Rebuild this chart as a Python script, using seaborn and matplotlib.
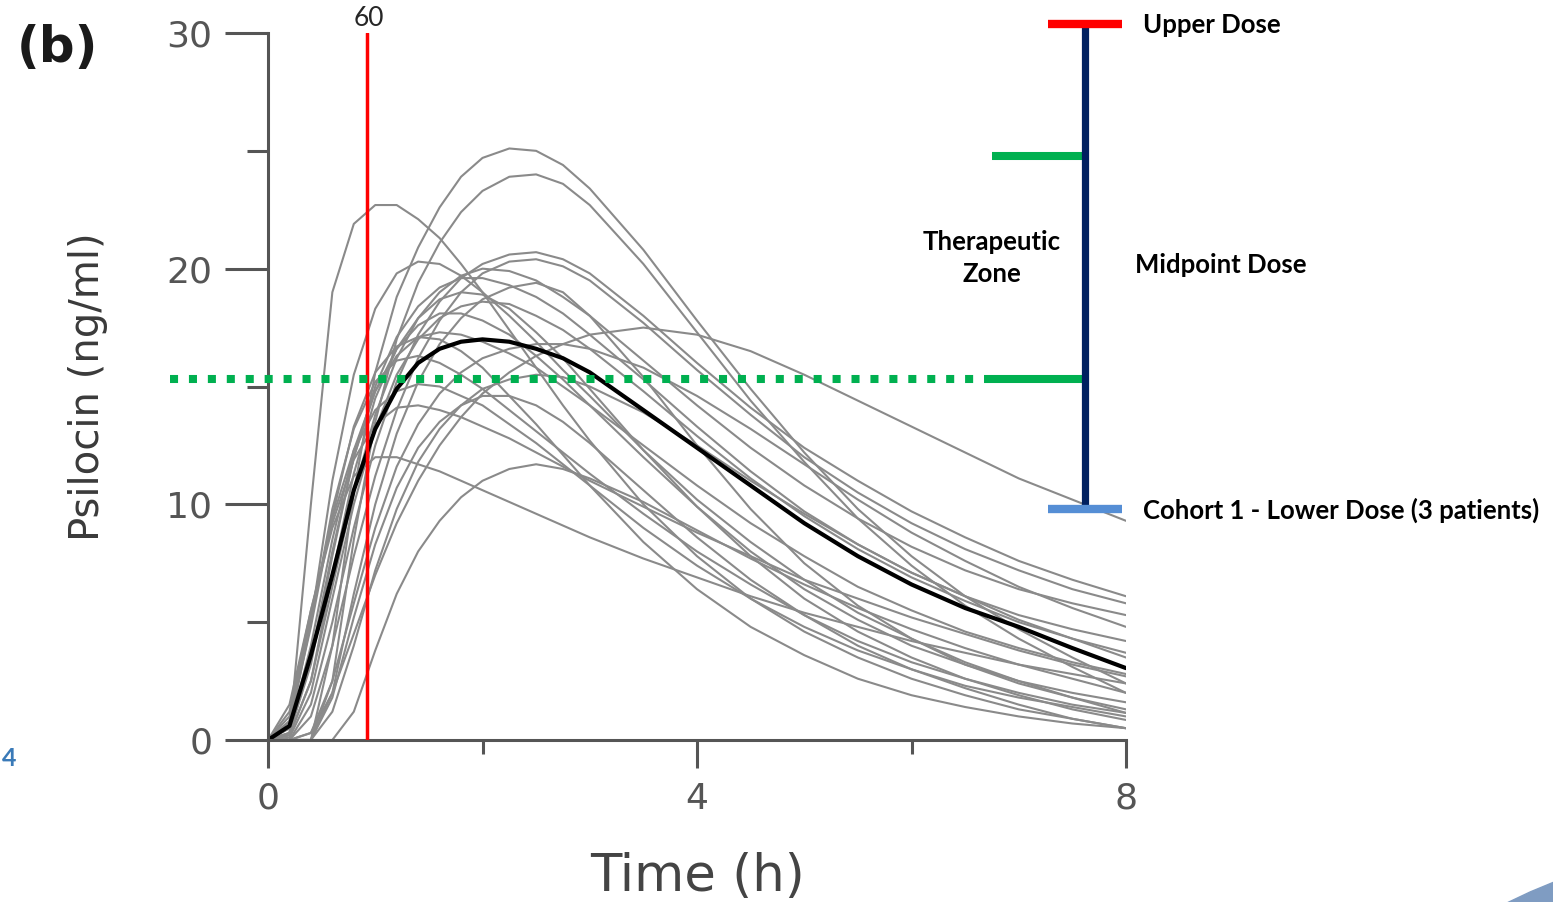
import matplotlib
matplotlib.use("Agg")
import matplotlib.pyplot as plt
from matplotlib.patches import Circle
import seaborn as sns
import pandas as pd

# sampling times (h)
time_h = [0, 0.2, 0.4, 0.6, 0.8, 1.0, 1.2, 1.4, 1.6, 1.8, 2.0, 2.25, 2.5, 2.75, 3.0,
          3.5, 4.0, 4.5, 5.0, 5.5, 6.0, 6.5, 7.0, 7.5, 8.0]

# population mean psilocin concentration (ng/ml)
mean_conc = [0, 0.6, 3.6, 7.0, 10.6, 13.2, 14.9, 16.0, 16.6, 16.9, 17.0, 16.9, 16.6, 16.2, 15.6,
             14.0, 12.4, 10.8, 9.2, 7.8, 6.6, 5.6, 4.8, 3.9, 3.05]

# individual simulated profiles (ng/ml)
subject_curves = [
    [0, 0.3, 10.0, 19.0, 21.9, 22.7, 22.7, 22.1, 21.3, 20.2, 19.0, 17.4, 15.8, 14.2, 12.7, 10.0, 7.8, 6.0, 4.6, 3.5, 2.6, 1.9, 1.3, 0.9, 0.5],
    [0, 0, 0, 4.0, 10.5, 15.6, 18.8, 20.9, 22.6, 23.9, 24.7, 25.1, 25.0, 24.4, 23.4, 20.8, 17.8, 14.9, 12.2, 9.8, 7.8, 6.1, 4.7, 3.5, 2.4],
    [0, 0, 0, 2.5, 8.5, 13.5, 17.0, 19.4, 21.1, 22.4, 23.3, 23.9, 24.0, 23.6, 22.7, 20.2, 17.3, 14.4, 11.8, 9.4, 7.4, 5.7, 4.3, 3.1, 2.0],
    [0, 0.5, 5.0, 11.0, 15.5, 18.3, 19.8, 20.3, 20.2, 19.7, 19.0, 18.0, 16.9, 15.7, 14.6, 12.3, 10.2, 8.4, 6.8, 5.4, 4.3, 3.3, 2.5, 1.8, 1.15],
    [0, 0, 1.5, 5.0, 9.0, 12.5, 15.2, 17.2, 18.6, 19.6, 20.2, 20.6, 20.7, 20.4, 19.8, 18.0, 16.0, 14.1, 12.4, 11.0, 9.7, 8.6, 7.6, 6.8, 6.1],
    [0, 0, 1.0, 4.0, 7.8, 11.2, 14.0, 16.2, 17.8, 19.0, 19.8, 20.3, 20.4, 20.1, 19.5, 17.7, 15.7, 13.8, 12.0, 10.5, 9.2, 8.1, 7.2, 6.4, 5.8],
    [0, 0.2, 2.5, 6.5, 10.5, 13.8, 16.2, 17.9, 19.0, 19.7, 20.0, 19.9, 19.5, 18.8, 18.0, 16.1, 14.2, 12.4, 10.8, 9.4, 8.2, 7.2, 6.4, 5.8, 5.3],
    [0, 0.3, 3.2, 7.8, 12.0, 15.0, 17.1, 18.4, 19.2, 19.6, 19.6, 19.3, 18.8, 18.1, 17.2, 15.3, 13.3, 11.4, 9.7, 8.3, 7.1, 6.1, 5.3, 4.7, 4.2],
    [0, 0.2, 2.5, 7.0, 11.3, 14.5, 16.6, 17.9, 18.7, 19.0, 18.9, 18.3, 17.3, 16.2, 14.9, 12.3, 9.9, 7.8, 6.0, 4.6, 3.5, 2.6, 1.9, 1.3, 0.85],
    [0, 0.1, 2.0, 6.0, 10.0, 13.2, 15.5, 17.0, 17.9, 18.4, 18.6, 18.5, 18.0, 17.4, 16.6, 14.8, 12.9, 11.1, 9.5, 8.1, 6.9, 5.9, 5.0, 4.3, 3.7],
    [0, 0, 0.3, 2.0, 4.5, 7.0, 9.2, 11.0, 12.5, 13.7, 14.7, 15.6, 16.3, 16.8, 17.2, 17.5, 17.2, 16.5, 15.5, 14.4, 13.3, 12.2, 11.1, 10.2, 9.3],
    [0, 0, 0, 0, 1.2, 3.8, 6.2, 8.0, 9.3, 10.3, 11.0, 11.5, 11.7, 11.5, 11.1, 10.1, 8.9, 7.7, 6.6, 5.6, 4.7, 3.9, 3.2, 2.6, 2.0],
    [0, 1.5, 5.5, 9.0, 11.2, 12.0, 12.0, 11.7, 11.4, 11.0, 10.6, 10.1, 9.6, 9.1, 8.6, 7.7, 6.9, 6.1, 5.4, 4.8, 4.2, 3.7, 3.2, 2.8, 2.4],
    [0, 0.8, 5.0, 9.8, 13.2, 15.2, 16.1, 16.3, 16.0, 15.5, 14.9, 14.0, 13.1, 12.2, 11.3, 9.6, 8.0, 6.6, 5.3, 4.2, 3.3, 2.6, 2.0, 1.5, 1.15],
    [0, 0.5, 4.0, 8.5, 12.3, 14.8, 16.3, 17.1, 17.3, 17.2, 16.9, 16.4, 15.8, 15.0, 14.2, 12.5, 10.8, 9.2, 7.8, 6.5, 5.5, 4.6, 3.9, 3.3, 2.8],
    [0, 0, 0, 1.2, 4.0, 7.2, 9.8, 11.8, 13.2, 14.2, 14.9, 15.3, 15.5, 15.4, 15.0, 13.9, 12.5, 11.0, 9.6, 8.3, 7.1, 6.1, 5.1, 4.3, 3.5],
    [0, 0, 0, 1.8, 5.2, 8.3, 10.7, 12.4, 13.5, 14.2, 14.6, 14.6, 14.2, 13.5, 12.6, 10.6, 8.6, 6.8, 5.3, 4.0, 3.0, 2.2, 1.5, 0.9, 0.5],
    [0, 0.3, 3.5, 8.0, 12.0, 14.8, 16.6, 17.6, 18.1, 18.1, 17.8, 17.2, 16.3, 15.3, 14.2, 12.0, 9.9, 8.0, 6.4, 5.1, 4.0, 3.2, 2.5, 2.0, 1.6],
    [0, 0, 0.3, 2.5, 5.8, 9.0, 11.6, 13.4, 14.7, 15.6, 16.2, 16.6, 16.8, 16.8, 16.6, 15.8, 14.6, 13.2, 11.7, 10.2, 8.8, 7.6, 6.5, 5.6, 4.8],
    [0, 1.0, 5.2, 9.4, 12.3, 14.0, 14.8, 15.1, 15.0, 14.6, 14.2, 13.4, 12.6, 11.7, 10.8, 9.0, 7.4, 6.0, 4.8, 3.8, 3.0, 2.3, 1.8, 1.4, 1.0],
    [0, 0, 0, 2.0, 6.2, 10.0, 13.0, 15.2, 16.8, 17.9, 18.7, 19.2, 19.4, 19.0, 18.0, 15.4, 12.5, 9.8, 7.5, 5.7, 4.3, 3.2, 2.4, 1.8, 1.3],
    [0, 0.8, 4.8, 9.5, 13.3, 15.6, 16.7, 17.1, 17.0, 16.5, 15.8, 14.6, 13.4, 12.1, 10.8, 8.4, 6.4, 4.8, 3.6, 2.6, 1.9, 1.4, 1.0, 0.7, 0.5],
    [0, 1.2, 5.5, 9.2, 11.9, 13.4, 14.1, 14.2, 14.0, 13.7, 13.3, 12.8, 12.2, 11.6, 11.0, 9.9, 8.8, 7.8, 6.8, 6.0, 5.2, 4.5, 3.8, 3.2, 2.7],
]

# annotation levels (data units)
dose_time = 0.92            # red line, 60 min
dose_bar_x = 7.62           # vertical dose scale
upper_dose = 30.4
zone_top = 24.8
zone_mid = 15.3
lower_dose = 9.8

rows = []
for i, curve in enumerate(subject_curves):
    for t, c in zip(time_h, curve):
        rows.append({"subject": i, "time": t, "conc": c})
df = pd.DataFrame(rows)
df_mean = pd.DataFrame({"time": time_h, "conc": mean_conc})

sns.set_style("ticks")
plt.rcParams["font.family"] = ["DejaVu Sans"]

W, H = 1553, 902
fig = plt.figure(figsize=(W / 100, H / 100), dpi=100)
ax = fig.add_axes([268 / W, 1 - 740 / H, 858 / W, 707 / H])

sns.lineplot(data=df, x="time", y="conc", units="subject", estimator=None,
             color="#8a8a8a", linewidth=1.5, ax=ax, legend=False)
sns.lineplot(data=df_mean, x="time", y="conc", color="black", linewidth=3.0, ax=ax)

ax.set_xlim(0, 8)
ax.set_ylim(0, 30)
sns.despine(ax=ax)
for s in ["left", "bottom"]:
    ax.spines[s].set_color("#555555")
    ax.spines[s].set_linewidth(2.2)

ax.set_xticks([0, 4, 8])
ax.set_xticks([2, 6], minor=True)
ax.set_yticks([0, 10, 20, 30])
ax.set_yticks([5, 15, 25], minor=True)
ax.tick_params(axis="y", which="major", length=31, width=2.2, color="#555555",
               pad=9, labelsize=26, labelcolor="#555555")
ax.tick_params(axis="y", which="minor", length=15, width=2.2, color="#555555")
ax.tick_params(axis="x", which="major", length=20, width=2.2, color="#555555",
               pad=10, labelsize=26, labelcolor="#555555")
ax.tick_params(axis="x", which="minor", length=10, width=2.2, color="#555555")

ax.set_xlabel("Time (h)", fontsize=37, color="#444444")
ax.xaxis.label.set_va("center")
ax.xaxis.set_label_coords(0.5, (740 - 877) / 707)
ax.set_ylabel("Psilocin (ng/ml)", fontsize=29, color="#3a3a3a")
ax.yaxis.label.set_va("center")
ax.yaxis.set_label_coords((88 - 268) / 858, 0.5)

# 60 min marker
ax.plot([dose_time, dose_time], [0, 30], color="red", linewidth=2.5, zorder=5)
ax.text(dose_time + 0.02, 30.6, "60", ha="center", va="center", fontsize=19,
        family="Lato", clip_on=False)

# therapeutic midpoint line
ax.plot([-0.91, 6.73], [zone_mid, zone_mid], color="#00b050", linewidth=5.8,
        linestyle=(0, (1, 1.35)), dash_capstyle="butt", clip_on=False, zorder=6)
ax.plot([6.73, dose_bar_x], [zone_mid, zone_mid], color="#00b050", linewidth=5.8,
        solid_capstyle="butt", clip_on=False, zorder=6)
ax.plot([6.75, dose_bar_x], [zone_top, zone_top], color="#00b050", linewidth=5.8,
        solid_capstyle="butt", clip_on=False, zorder=6)

# dose scale
ax.plot([dose_bar_x, dose_bar_x], [lower_dose, upper_dose], color="#002060",
        linewidth=5.2, solid_capstyle="butt", clip_on=False, zorder=6)
ax.plot([7.27, 7.96], [upper_dose, upper_dose], color="#ff0000", linewidth=6,
        solid_capstyle="butt", clip_on=False, zorder=7)
ax.plot([7.27, 7.96], [lower_dose, lower_dose], color="#558ed5", linewidth=6,
        solid_capstyle="butt", clip_on=False, zorder=7)


def fx(x):
    return x / W


def fy(y):
    return 1 - y / H


lab = dict(fontsize=18.5, fontweight="bold", family="Lato", color="black")
fig.text(fx(1143), fy(25), "Upper Dose", ha="left", va="center", **lab)
fig.text(fx(1135), fy(265), "Midpoint Dose", ha="left", va="center", **lab)
fig.text(fx(992), fy(258), "Therapeutic\nZone", ha="center", va="center",
         linespacing=1.45, **lab)
fig.text(fx(1143), fy(510), "Cohort 1 - Lower Dose (3 patients)", ha="left",
         va="center", **lab)

fig.text(fx(57), fy(48), "(b)", ha="center", va="center", fontsize=36,
         fontweight="bold", color="#1a1a1a")
fig.text(fx(9), fy(758), "4", ha="center", va="center", fontsize=18,
         fontweight="bold", family="Lato", color="#3a7ab8")

# slide decoration in the corner
fig.patches.append(Circle((1733, H - 1349), 500, transform=None,
                          color="#7f9cc2", zorder=0))

fig.savefig("out.png", dpi=100)
